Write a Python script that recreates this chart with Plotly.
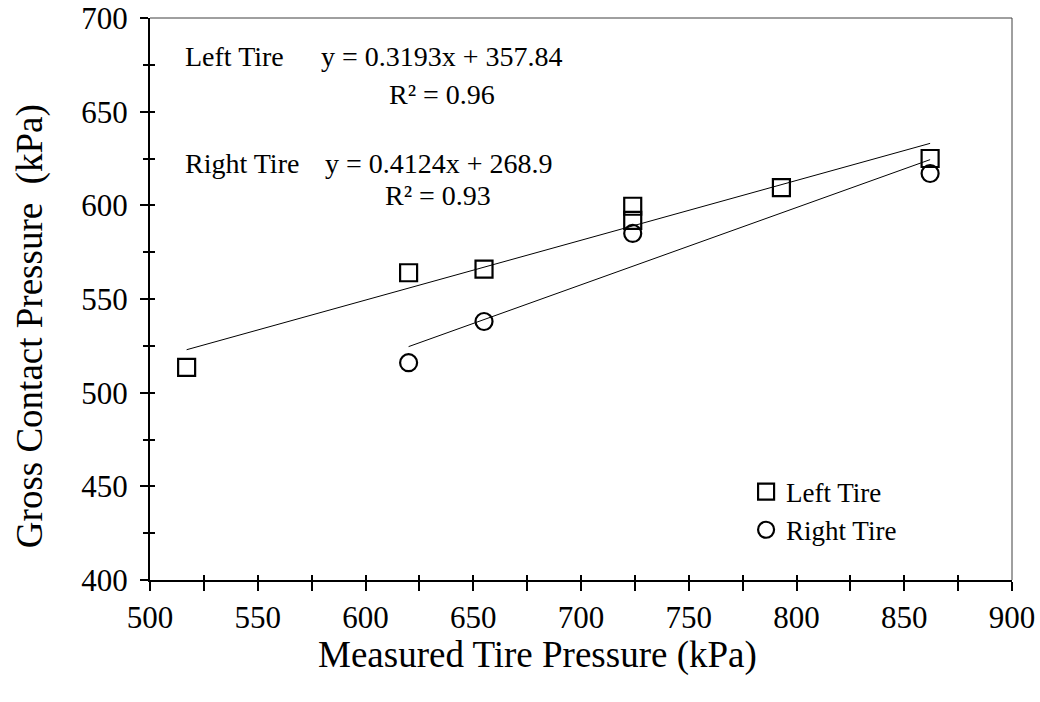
import numpy as np
import plotly.graph_objects as go

# Measured tire pressure (kPa) vs gross contact pressure (kPa)
left_x = [517, 620, 655, 724, 724, 793, 862]
left_y = [513.5, 564, 566, 599.5, 592, 609.5, 625]
right_x = [620, 655, 724, 862]
right_y = [516, 538, 585, 617]

# Linear trend fits: slope, intercept, R^2
left_fit = (0.3193, 357.84, 0.96)
right_fit = (0.4124, 268.9, 0.93)

x_ticks = list(range(500, 901, 25))
y_ticks = list(range(400, 701, 25))

FONT = "Liberation Serif"

fig = go.Figure()

fig.add_trace(go.Scatter(
    x=left_x, y=left_y, mode="markers", name="Left Tire",
    marker=dict(symbol="square-open", size=17, color="black", line=dict(width=2.2, color="black")),
))
fig.add_trace(go.Scatter(
    x=right_x, y=right_y, mode="markers", name="Right Tire",
    marker=dict(symbol="circle-open", size=17, color="black", line=dict(width=2.2, color="black")),
))


def trend(xs, fit):
    xr = np.array([min(xs), max(xs)], dtype=float)
    return xr, fit[0] * xr + fit[1]


for xs, fit in ((left_x, left_fit), (right_x, right_fit)):
    tx, ty = trend(xs, fit)
    fig.add_trace(go.Scatter(x=tx, y=ty, mode="lines", showlegend=False,
                             line=dict(color="black", width=1), hoverinfo="skip"))

# empty trace so the inward-tick overlay axes get drawn
fig.add_trace(go.Scatter(x=[], y=[], xaxis="x2", yaxis="y2", showlegend=False))

tick_font = dict(family=FONT, size=31, color="black")
fig.update_layout(
    width=1040, height=702,
    margin=dict(l=150, r=28, t=18, b=122),
    paper_bgcolor="white", plot_bgcolor="white",
    font=dict(family=FONT, color="black"),
    xaxis=dict(
        range=[500, 900], tickvals=x_ticks, automargin=False,
        ticktext=[str(v) if v % 50 == 0 else "" for v in x_ticks],
        ticks="outside", ticklen=9, tickwidth=1.5, tickcolor="black",
        showline=True, linecolor="black", linewidth=2,
        showgrid=False, zeroline=False, tickfont=tick_font,
    ),
    yaxis=dict(
        range=[400, 700], tickvals=[v for v in y_ticks if v % 50 == 0], automargin=False,
        ticks="outside", ticklen=8, tickwidth=1.5, tickcolor="black",
        minor=dict(tickvals=[v for v in y_ticks if v % 50 != 0], ticks="outside",
                   ticklen=5, tickwidth=1.5, tickcolor="black"),
        showline=True, linecolor="black", linewidth=2, ticklabelstandoff=6,
        showgrid=False, zeroline=False, tickfont=tick_font,
    ),
    xaxis2=dict(
        range=[500, 900], overlaying="x", anchor="y2", side="bottom", automargin=False,
        tickvals=x_ticks, ticks="inside", ticklen=5, tickwidth=1.5, tickcolor="black",
        showticklabels=False, showline=False, showgrid=False, zeroline=False,
    ),
    yaxis2=dict(
        range=[400, 700], overlaying="y", anchor="x2", side="left", automargin=False,
        tickvals=y_ticks, ticks="inside", ticklen=5, tickwidth=1.5, tickcolor="black",
        showticklabels=False, showline=False, showgrid=False, zeroline=False,
    ),
    legend=dict(
        x=0.6915, y=0.2, xanchor="left", yanchor="top",
        font=dict(family=FONT, size=27, color="black"),
        bgcolor="rgba(0,0,0,0)", tracegroupgap=2, itemwidth=30,
    ),
    showlegend=True,
)

# thin frame on the top and right edges
fig.add_shape(type="line", xref="paper", yref="paper", x0=0, x1=1, y0=1, y1=1,
              line=dict(color="#404040", width=1))
fig.add_shape(type="line", xref="paper", yref="paper", x0=1, x1=1, y0=0, y1=1,
              line=dict(color="#404040", width=1))

ann_font = dict(family=FONT, size=28, color="black")
labels = [
    (515.3, 679.2, "Left Tire"),
    (578.4, 679.2, f"y = {left_fit[0]}x + {left_fit[1]}"),
    (610.0, 659.4, f"R² = {left_fit[2]:.2f}"),
    (515.3, 622.6, "Right Tire"),
    (580.3, 622.6, f"y = {right_fit[0]}x + {right_fit[1]}"),
    (608.0, 605.0, f"R² = {right_fit[2]:.2f}"),
]
for ax, ay, txt in labels:
    fig.add_annotation(x=ax, y=ay, text=txt, showarrow=False, xanchor="left",
                       yanchor="middle", font=ann_font)

title_font = dict(family=FONT, size=37, color="black")
fig.add_annotation(text="Measured Tire Pressure (kPa)", xref="paper", yref="paper",
                   x=0.45, y=-0.1335, showarrow=False, xanchor="center",
                   yanchor="middle", font=title_font)
fig.add_annotation(text="Gross Contact Pressure  (kPa)", xref="paper", yref="paper",
                   x=-0.139, y=0.452, showarrow=False, xanchor="center",
                   yanchor="middle", textangle=-90, font=title_font)

fig.write_html("out.html")
